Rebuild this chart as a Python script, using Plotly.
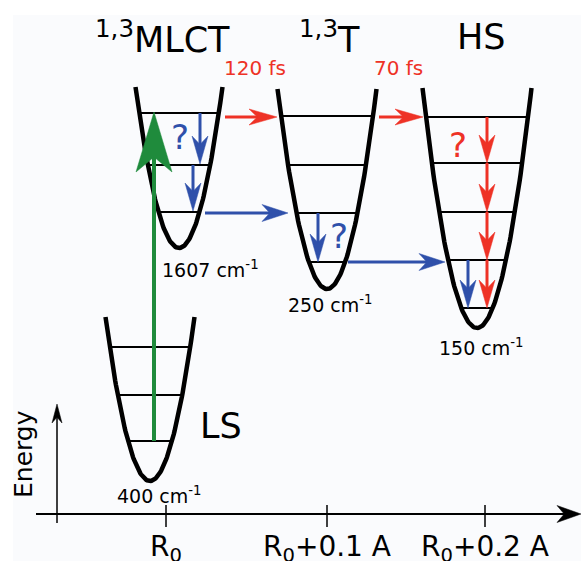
import numpy as np
import plotly.graph_objects as go

# ---------------- data ----------------
states = ["LS", "MLCT", "T", "HS"]
state_labels = ["LS", "<sup>1,3</sup>MLCT", "<sup>1,3</sup>T", "HS"]
frequencies = [400, 1607, 250, 150]          # cm-1
lifetimes = ["120 fs", "70 fs"]
tick_labels = ["R<sub>0</sub>", "R<sub>0</sub>+0.1 A", "R<sub>0</sub>+0.2 A"]
axis_title = "Energy"

# ---------------- geometry (diagram coordinates) ----------------
W, H = 581, 561
well_cx = [150, 179, 327, 477]
well_bottom = [481, 248, 289, 328]
well_top = [317, 87, 89, 88]
well_halfw = [44.5, 43.5, 49.5, 54.5]
level_y = [[441, 395, 347], [212, 165, 113], [262, 213, 165, 116], [308, 260, 212, 163, 117]]
tick_x = [166, 327, 485]

RED = "#ee3226"
BLUE = "#2f50aa"
GREEN = "#1f8b3c"
BLACK = "#000000"

fig = go.Figure()


def well_half(i, y):
    depth = well_bottom[i] - well_top[i]
    return well_halfw[i] * np.sqrt(max(well_bottom[i] - y, 0) / depth)


def add_line(xs, ys, color, width):
    fig.add_trace(go.Scatter(x=xs, y=ys, mode="lines",
                             line=dict(color=color, width=width),
                             hoverinfo="skip", showlegend=False))


def add_arrow(x0, y0, x1, y1, color, width, L, Wd, notch=0.7):
    d = np.array([x1 - x0, y1 - y0], dtype=float)
    u = d / np.linalg.norm(d)
    n = np.array([-u[1], u[0]])
    tip = np.array([x1, y1], dtype=float)
    back = tip - L * u
    c1 = back + n * Wd / 2
    c2 = back - n * Wd / 2
    nb = tip - L * notch * u
    add_line([x0, nb[0] + 0.3 * L * u[0]], [y0, nb[1] + 0.3 * L * u[1]], color, width)
    fig.add_trace(go.Scatter(x=[tip[0], c1[0], nb[0], c2[0], tip[0]],
                             y=[tip[1], c1[1], nb[1], c2[1], tip[1]],
                             mode="lines", fill="toself", fillcolor=color,
                             line=dict(color=color, width=0.5),
                             hoverinfo="skip", showlegend=False))


# vibrational levels
for i in range(len(states)):
    xs, ys = [], []
    for y in level_y[i]:
        h = well_half(i, y)
        xs += [well_cx[i] - h, well_cx[i] + h, None]
        ys += [y, y, None]
    add_line(xs, ys, BLACK, 2)

# potential wells
for i in range(len(states)):
    x = np.linspace(well_cx[i] - well_halfw[i], well_cx[i] + well_halfw[i], 121)
    depth = well_bottom[i] - well_top[i]
    y = well_bottom[i] - depth * ((x - well_cx[i]) / well_halfw[i]) ** 2
    add_line(x, y, BLACK, 4.5)

# axes
add_arrow(36, 514, 581, 514, BLACK, 2, 24, 17, 0.7)
add_arrow(57, 523, 57, 404, BLACK, 1.5, 19, 10, 0.7)
for tx in tick_x:
    add_line([tx, tx], [505, 527], BLACK, 1.5)

# red transitions
add_arrow(225, 117, 277, 117, RED, 3, 28, 16)
add_arrow(379, 117, 423, 117, RED, 3, 28, 16)
lv = sorted(level_y[3])  # HS levels from top to bottom
for k in range(len(lv) - 1):
    add_arrow(487, lv[k], 487, lv[k + 1], RED, 3, 28, 16)

# blue transitions
add_arrow(200, 113, 200, 164, BLUE, 3, 28, 16)
add_arrow(193, 165, 193, 211, BLUE, 3, 28, 16)
add_arrow(205, 213, 288, 213, BLUE, 3, 26, 17)
add_arrow(318, 213, 318, 262, BLUE, 3, 28, 16)
add_arrow(348, 262, 445, 262, BLUE, 3, 26, 17)
add_arrow(468, 260, 468, 308, BLUE, 3, 28, 16)

# green excitation
add_arrow(154, 441, 154, 112, GREEN, 4, 60, 36, 0.75)

ann = []
font = "DejaVu Sans"


def text(x, y, s, size, color=BLACK, angle=0, xanchor="center", yanchor="middle"):
    ann.append(dict(x=x, y=y, xref="x", yref="y", text=s, showarrow=False,
                    font=dict(family=font, size=size, color=color),
                    textangle=angle, xanchor=xanchor, yanchor=yanchor))


# state labels
text(162, 37, state_labels[1], 35)
text(329, 37, state_labels[2], 35)
text(481, 37, state_labels[3], 35)
text(221, 426, state_labels[0], 35)

# frequency labels
freq_pos = [(159, 495), (210, 269), (330, 304), (481, 347)]
for f, (x, y) in zip(frequencies, freq_pos):
    text(x, y, f"{f} cm<sup>-1</sup>", 19)

# lifetimes
text(255, 68, lifetimes[0], 20, RED)
text(398, 68, lifetimes[1], 20, RED)

# question marks
text(180, 137, "?", 34, BLUE)
text(339, 236, "?", 34, BLUE)
text(458, 145, "?", 34, RED)

# axis labels
for tx, lab in zip(tick_x, tick_labels):
    text(tx, 548, lab, 28)
text(23, 454, axis_title, 25, angle=-90)

fig.update_layout(
    width=W, height=H,
    margin=dict(l=0, r=0, t=0, b=0),
    paper_bgcolor="white",
    plot_bgcolor="white",
    xaxis=dict(range=[0, W], visible=False, fixedrange=True),
    yaxis=dict(range=[H, 0], visible=False, fixedrange=True),
    annotations=ann,
    shapes=[dict(type="rect", xref="x", yref="y", x0=13, y0=15, x1=W, y1=H,
                 fillcolor="#fafbfd", line=dict(width=0), layer="below")],
    showlegend=False,
)

fig.write_html("out.html")
